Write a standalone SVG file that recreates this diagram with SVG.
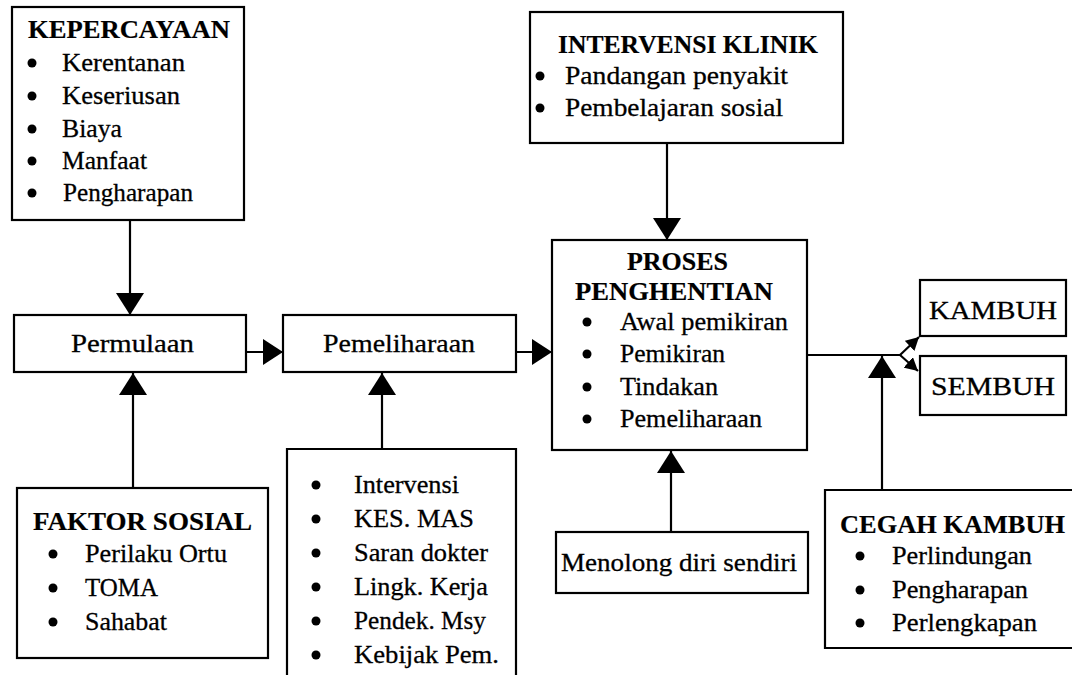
<svg xmlns="http://www.w3.org/2000/svg" width="1072" height="675" viewBox="0 0 1072 675">
<defs>
<style>
.box{fill:#fff;stroke:#000;stroke-width:2.2}
.open{fill:none;stroke:#000;stroke-width:2.2}
.t{font-family:"Liberation Serif",serif;font-size:26px;fill:#000;stroke:#000;stroke-width:0.3}
.b{font-weight:bold;stroke-width:0.2}
.dot{fill:#000}
.con{fill:none;stroke:#000;stroke-width:2.2}
</style>
<marker id="tri" markerUnits="userSpaceOnUse" markerWidth="24" markerHeight="28" refX="22" refY="14" orient="auto" viewBox="0 0 24 28">
<path d="M0,0 L22,14 L0,28 Z" fill="#000"/>
</marker>
<marker id="tri2" markerUnits="userSpaceOnUse" markerWidth="22" markerHeight="26" refX="20" refY="13" orient="auto" viewBox="0 0 22 26">
<path d="M0,0 L20,13 L0,26 Z" fill="#000"/>
</marker>
<marker id="sm" markerUnits="userSpaceOnUse" markerWidth="14" markerHeight="14" refX="13" refY="7" orient="auto" viewBox="0 0 14 14">
<path d="M0,0 L13,7 L0,14 Z" fill="#000"/>
</marker>
</defs>
<rect width="1072" height="675" fill="#fff"/>

<g id="connectors">
<line class="con" x1="130" y1="220" x2="130" y2="315" marker-end="url(#tri)"/>
<line class="con" x1="667" y1="143" x2="667" y2="240" marker-end="url(#tri)"/>
<line class="con" x1="246" y1="352" x2="283" y2="352" marker-end="url(#tri2)"/>
<line class="con" x1="516" y1="352" x2="552" y2="352" marker-end="url(#tri2)"/>
<line class="con" x1="133" y1="488" x2="133" y2="373" marker-end="url(#tri)"/>
<line class="con" x1="382" y1="449" x2="382" y2="373" marker-end="url(#tri)"/>
<line class="con" x1="671" y1="532" x2="671" y2="451" marker-end="url(#tri)"/>
<line class="con" x1="882" y1="490" x2="882" y2="356" marker-end="url(#tri)"/>
<polyline class="con" points="807,355 900,355"/>
<line class="con" x1="900" y1="355" x2="919" y2="337" marker-end="url(#sm)"/>
<line class="con" x1="900" y1="355" x2="918" y2="371" marker-end="url(#sm)"/>
</g>

<g id="kepercayaan">
<rect class="box" x="12" y="7" width="232" height="213"/>
<text class="t b" x="28" y="38" textLength="202" lengthAdjust="spacingAndGlyphs">KEPERCAYAAN</text>
<circle class="dot" cx="32" cy="63" r="4.5"/><text class="t" x="62" y="71" textLength="123" lengthAdjust="spacingAndGlyphs">Kerentanan</text>
<circle class="dot" cx="32" cy="96" r="4.5"/><text class="t" x="62" y="104" textLength="118" lengthAdjust="spacingAndGlyphs">Keseriusan</text>
<circle class="dot" cx="32" cy="129" r="4.5"/><text class="t" x="62" y="137" textLength="60" lengthAdjust="spacingAndGlyphs">Biaya</text>
<circle class="dot" cx="32" cy="161" r="4.5"/><text class="t" x="62" y="169" textLength="85" lengthAdjust="spacingAndGlyphs">Manfaat</text>
<circle class="dot" cx="32" cy="193" r="4.5"/><text class="t" x="63" y="201" textLength="130" lengthAdjust="spacingAndGlyphs">Pengharapan</text>
</g>

<g id="intervensi-klinik">
<rect class="box" x="530" y="12" width="313" height="131"/>
<text class="t b" x="558" y="53" textLength="260" lengthAdjust="spacingAndGlyphs">INTERVENSI KLINIK</text>
<circle class="dot" cx="540" cy="76" r="4.5"/><text class="t" x="565" y="84" textLength="223" lengthAdjust="spacingAndGlyphs">Pandangan penyakit</text>
<circle class="dot" cx="540" cy="108" r="4.5"/><text class="t" x="565" y="116" textLength="218" lengthAdjust="spacingAndGlyphs">Pembelajaran sosial</text>
</g>

<g id="permulaan">
<rect class="box" x="14" y="315" width="232" height="57"/>
<text class="t" x="71" y="352" textLength="123" lengthAdjust="spacingAndGlyphs">Permulaan</text>
</g>

<g id="pemeliharaan">
<rect class="box" x="283" y="315" width="233" height="57"/>
<text class="t" x="323" y="352" textLength="152" lengthAdjust="spacingAndGlyphs">Pemeliharaan</text>
</g>

<g id="proses-penghentian">
<rect class="box" x="552" y="240" width="255" height="210"/>
<text class="t b" x="627" y="270" textLength="101" lengthAdjust="spacingAndGlyphs">PROSES</text>
<text class="t b" x="575" y="300" textLength="198" lengthAdjust="spacingAndGlyphs">PENGHENTIAN</text>
<circle class="dot" cx="587" cy="322" r="4.5"/><text class="t" x="620" y="330" textLength="168" lengthAdjust="spacingAndGlyphs">Awal pemikiran</text>
<circle class="dot" cx="587" cy="354" r="4.5"/><text class="t" x="620" y="362" textLength="105" lengthAdjust="spacingAndGlyphs">Pemikiran</text>
<circle class="dot" cx="587" cy="387" r="4.5"/><text class="t" x="620" y="395" textLength="98" lengthAdjust="spacingAndGlyphs">Tindakan</text>
<circle class="dot" cx="587" cy="419" r="4.5"/><text class="t" x="620" y="427" textLength="142" lengthAdjust="spacingAndGlyphs">Pemeliharaan</text>
</g>

<g id="kambuh">
<rect class="box" x="920" y="280" width="146" height="56"/>
<text class="t" x="929" y="319" textLength="128" lengthAdjust="spacingAndGlyphs">KAMBUH</text>
</g>

<g id="sembuh">
<rect class="box" x="920" y="356" width="146" height="59"/>
<text class="t" x="931" y="395" textLength="124" lengthAdjust="spacingAndGlyphs">SEMBUH</text>
</g>

<g id="faktor-sosial">
<rect class="box" x="17" y="488" width="251" height="170"/>
<text class="t b" x="33" y="530" textLength="219" lengthAdjust="spacingAndGlyphs">FAKTOR SOSIAL</text>
<circle class="dot" cx="53" cy="554" r="4.5"/><text class="t" x="85" y="562" textLength="142" lengthAdjust="spacingAndGlyphs">Perilaku Ortu</text>
<circle class="dot" cx="53" cy="588" r="4.5"/><text class="t" x="85" y="596" textLength="73" lengthAdjust="spacingAndGlyphs">TOMA</text>
<circle class="dot" cx="53" cy="622" r="4.5"/><text class="t" x="85" y="630" textLength="82" lengthAdjust="spacingAndGlyphs">Sahabat</text>
</g>

<g id="faktor-pemeliharaan">
<path class="open" d="M287,680 V449 H516 V680"/>
<circle class="dot" cx="316" cy="485" r="4.5"/><text class="t" x="354" y="493" textLength="105" lengthAdjust="spacingAndGlyphs">Intervensi</text>
<circle class="dot" cx="316" cy="519" r="4.5"/><text class="t" x="354" y="527" textLength="120" lengthAdjust="spacingAndGlyphs">KES. MAS</text>
<circle class="dot" cx="316" cy="553" r="4.5"/><text class="t" x="354" y="561" textLength="134" lengthAdjust="spacingAndGlyphs">Saran dokter</text>
<circle class="dot" cx="316" cy="587" r="4.5"/><text class="t" x="354" y="595" textLength="134" lengthAdjust="spacingAndGlyphs">Lingk. Kerja</text>
<circle class="dot" cx="316" cy="621" r="4.5"/><text class="t" x="354" y="629" textLength="132" lengthAdjust="spacingAndGlyphs">Pendek. Msy</text>
<circle class="dot" cx="316" cy="655" r="4.5"/><text class="t" x="354" y="663" textLength="145" lengthAdjust="spacingAndGlyphs">Kebijak Pem.</text>
</g>

<g id="menolong-diri-sendiri">
<rect class="box" x="556" y="532" width="252" height="61"/>
<text class="t" x="561" y="571" textLength="236" lengthAdjust="spacingAndGlyphs">Menolong diri sendiri</text>
</g>

<g id="cegah-kambuh">
<path class="box" d="M1080,490 H825 V648 H1080"/>
<text class="t b" x="840" y="533" textLength="225" lengthAdjust="spacingAndGlyphs">CEGAH KAMBUH</text>
<circle class="dot" cx="860" cy="556" r="4.5"/><text class="t" x="892" y="564" textLength="140" lengthAdjust="spacingAndGlyphs">Perlindungan</text>
<circle class="dot" cx="860" cy="590" r="4.5"/><text class="t" x="892" y="598" textLength="136" lengthAdjust="spacingAndGlyphs">Pengharapan</text>
<circle class="dot" cx="860" cy="623" r="4.5"/><text class="t" x="892" y="631" textLength="145" lengthAdjust="spacingAndGlyphs">Perlengkapan</text>
</g>
</svg>
